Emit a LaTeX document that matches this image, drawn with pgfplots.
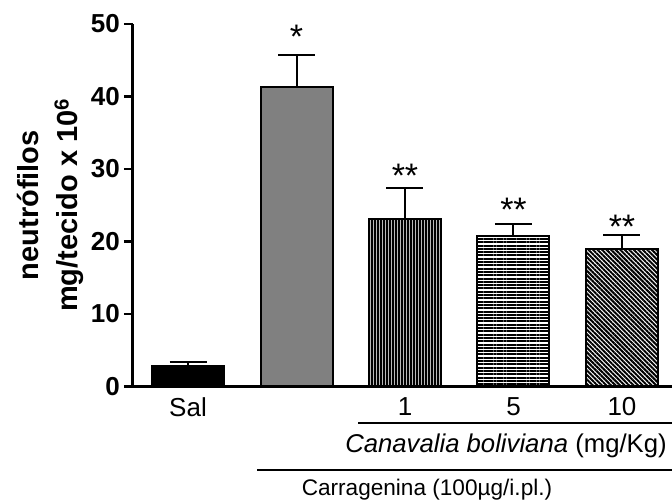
\documentclass[border=0pt]{standalone}
\usepackage{fontspec}
\setmainfont{Liberation Sans}
\usepackage{pgfplots}
\pgfplotsset{compat=1.18}
\usetikzlibrary{patterns.meta}

\newcommand\fsTick{\fontsize{26}{30}\selectfont}
\newcommand\fsX{\fontsize{26}{30}\selectfont}
\newcommand\fsLab{\fontsize{29}{39}\selectfont}
\newcommand\fsStar{\fontsize{34}{36}\selectfont}

\begin{document}
\begin{tikzpicture}
\useasboundingbox (0,0) rectangle (672pt,503pt);
\begin{axis}[
  at={(133pt,116.5pt)}, anchor=south west,
  scale only axis, width=539pt, height=362.5pt,
  xmin=-0.507, xmax=4.461, ymin=0, ymax=50,
  clip=false,
  axis x line=bottom, axis y line=left,
  axis line style={line width=3pt, -},
  ytick={0,10,...,50},
  tick align=outside,
  major tick length=9pt,
  ytick style={line width=2.5pt, black},
  xtick style={draw=none},
  xtick={0,2,3,4},
  xticklabels={Sal,1,5,10},
  xticklabel style={font=\fsX, inner sep=2pt},
  yticklabel style={font=\fsTick\bfseries, inner xsep=4pt},
  /pgf/number format/assume math mode=true,
  ylabel={neutrófilos\\mg/tecido x 10\textsuperscript{6}},
  every axis y label/.style={at={(ticklabel cs:0.5)}, rotate=90, anchor=south,
    font=\fsLab\bfseries, align=center, inner sep=3pt},
  bar width=72pt,
  every axis plot/.append style={ybar, bar shift=0pt, draw=black, line width=2pt,
    error bars/y dir=plus, error bars/y explicit,
    error bars/error bar style={line width=2pt, black},
    error bars/error mark options={rotate=90, line width=2pt, mark size=18.5pt, black}},
]
% saline control
\addplot[fill=black] coordinates {(0,2.8) +- (0,0.6)};
% carrageenan only
\addplot[fill=gray] coordinates {(1,41.3) +- (0,4.4)};
% Canavalia boliviana 1 mg/Kg
\addplot[preaction={fill=gray!55}, pattern={Lines[angle=90,distance=3pt,line width=1.9pt]}, pattern color=black]
  coordinates {(2,23.1) +- (0,4.3)};
% Canavalia boliviana 5 mg/Kg
\addplot[fill=white, postaction={pattern={Lines[angle=0,distance=3.3pt,line width=2pt]}, pattern color=black}]
  coordinates {(3,20.8) +- (0,1.6)};
% Canavalia boliviana 10 mg/Kg
\addplot[fill=white, postaction={pattern={Lines[angle=-45,distance=3.2pt,line width=2pt]}, pattern color=black}]
  coordinates {(4,19.0) +- (0,1.9)};

% significance marks
\node[anchor=base, font=\fsStar] at (axis cs:1,46.6) {*};
\node[anchor=base, font=\fsStar] at (axis cs:2,27.5) {**};
\node[anchor=base, font=\fsStar] at (axis cs:3,22.8) {**};
\node[anchor=base, font=\fsStar] at (axis cs:4,20.4) {**};
\end{axis}

% treatment group brackets
\draw[line width=2pt] (358pt,80pt) -- (672pt,80pt);
\node[font=\fontsize{25.7}{30}\selectfont] at (506pt,57pt) {\textit{Canavalia boliviana} (mg/Kg)};
\draw[line width=2pt] (257pt,33pt) -- (672pt,33pt);
\node[font=\fontsize{22.6}{27}\selectfont] at (427pt,13pt) {Carragenina (100µg/i.pl.)};
\end{tikzpicture}
\end{document}
